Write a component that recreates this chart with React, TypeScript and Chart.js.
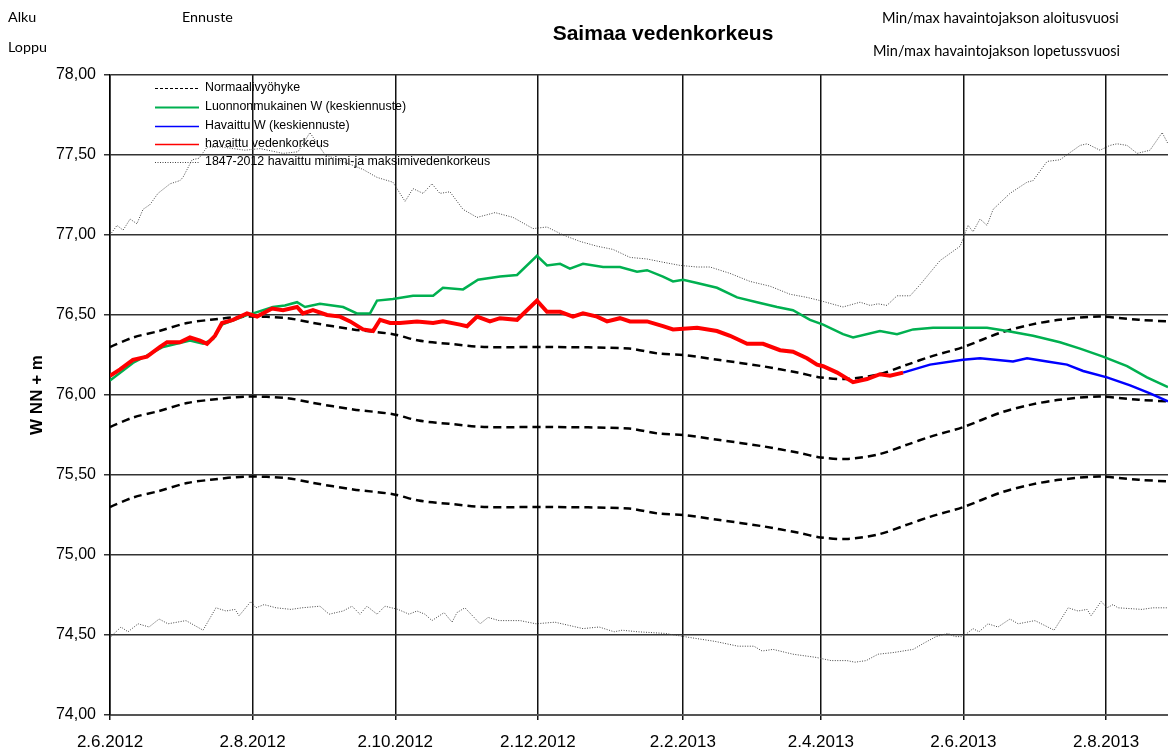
import React, { useEffect, useRef } from 'react';
import { Chart, registerables } from 'chart.js';

Chart.register(...registerables);

// X axis: days since 2.6.2012
const xTickDays = [0, 61, 122, 183, 245, 304, 365, 426];
const xTickLabels = ['2.6.2012', '2.8.2012', '2.10.2012', '2.12.2012', '2.2.2013', '2.4.2013', '2.6.2013', '2.8.2013'];
const xMaxDay = 452.5;
const yMin = 74;
const yMax = 78;
const yStep = 0.5;

const legendLabels = [
  'Normaalivyöhyke',
  'Luonnonmukainen W (keskiennuste)',
  'Havaittu W (keskiennuste)',
  'havaittu vedenkorkeus',
  '1847-2012 havaittu minimi-ja maksimivedenkorkeus',
];

const titleText = 'Saimaa vedenkorkeus';
const yAxisTitle = 'W NN + m';
const headerLeft = ['Alku', 'Ennuste', 'Loppu'];
const headerRight = ['Min/max havaintojakson aloitusvuosi', 'Min/max havaintojakson lopetussvuosi'];

// havaittu vedenkorkeus (red)
const redDays = [0, 4.3, 9.8, 15.8, 21.4, 24.4, 29.9, 34.2, 38.5, 41.5, 44.9, 47.9, 52.6, 58.6, 62.9, 69.3, 74.0, 80.0, 82.5, 86.8, 92.8, 98.4, 102.7, 108.2, 112.5, 115.5, 119.8, 124.0, 131.3, 138.2, 142.4, 149.7, 152.7, 157.0, 162.5, 166.8, 174.1, 182.6, 186.9, 192.5, 198.0, 202.3, 208.3, 212.6, 218.1, 222.4, 229.7, 236.5, 240.8, 251.1, 259.6, 265.2, 272.5, 279.3, 286.6, 292.1, 298.1, 302.4, 305.0, 311.0, 317.8, 323.8, 329.3, 333.6, 339.2];
const redLevels = [76.12, 76.16, 76.22, 76.24, 76.30, 76.33, 76.33, 76.36, 76.34, 76.32, 76.37, 76.45, 76.47, 76.51, 76.49, 76.54, 76.53, 76.55, 76.51, 76.53, 76.50, 76.49, 76.46, 76.41, 76.40, 76.47, 76.45, 76.45, 76.46, 76.45, 76.46, 76.44, 76.43, 76.49, 76.46, 76.48, 76.47, 76.59, 76.52, 76.52, 76.49, 76.51, 76.49, 76.46, 76.48, 76.46, 76.46, 76.43, 76.41, 76.42, 76.40, 76.37, 76.32, 76.32, 76.28, 76.27, 76.23, 76.19, 76.18, 76.14, 76.08, 76.10, 76.13, 76.12, 76.14];

// Luonnonmukainen W (green)
const greenDays = [0, 9.8, 22.7, 34.2, 39.8, 44.1, 47.9, 58.6, 61.2, 69.7, 74.8, 80.0, 83.4, 89.8, 99.7, 105.6, 111.2, 114.2, 121.0, 129.6, 138.2, 142.4, 151.0, 157.4, 166.8, 174.1, 182.6, 186.9, 192.5, 196.7, 202.3, 210.9, 218.1, 225.4, 229.7, 236.5, 240.8, 245.1, 251.1, 259.6, 268.2, 276.7, 285.3, 292.1, 299.4, 305.0, 313.5, 317.8, 329.3, 336.6, 343.5, 352.0, 364.8, 375.1, 383.7, 394.8, 406.3, 414.9, 424.7, 435.0, 443.5, 452.5];
const greenLevels = [76.09, 76.20, 76.30, 76.34, 76.32, 76.35, 76.44, 76.50, 76.51, 76.55, 76.56, 76.58, 76.55, 76.57, 76.55, 76.51, 76.51, 76.59, 76.60, 76.62, 76.62, 76.67, 76.66, 76.72, 76.74, 76.75, 76.87, 76.81, 76.82, 76.79, 76.82, 76.80, 76.80, 76.77, 76.78, 76.74, 76.71, 76.72, 76.70, 76.67, 76.61, 76.58, 76.55, 76.53, 76.47, 76.44, 76.38, 76.36, 76.40, 76.38, 76.41, 76.42, 76.42, 76.42, 76.40, 76.37, 76.33, 76.29, 76.24, 76.18, 76.11, 76.05];

// Havaittu W (blue)
const blueDays = [339.2, 350.7, 364.8, 372.1, 386.2, 392.2, 400.8, 409.3, 416.2, 426.4, 436.3, 444.8, 452.5];
const blueLevels = [76.14, 76.19, 76.22, 76.23, 76.21, 76.23, 76.21, 76.19, 76.15, 76.11, 76.06, 76.01, 75.96];

// Normaalivyöhyke (three dashed lines)
const normalDays = [0, 10, 21, 33, 43, 58, 76, 87, 104, 121, 132, 145, 160, 187, 222, 234, 245, 260, 279, 294, 304, 315, 329, 341, 351, 365, 381, 394, 406, 423, 440, 452.5];
const normalUpper = [76.30, 76.36, 76.40, 76.45, 76.47, 76.49, 76.48, 76.45, 76.41, 76.38, 76.34, 76.32, 76.30, 76.30, 76.29, 76.26, 76.25, 76.22, 76.18, 76.14, 76.11, 76.10, 76.13, 76.19, 76.24, 76.30, 76.39, 76.44, 76.47, 76.49, 76.47, 76.46];
const normalMiddle = [75.80, 75.86, 75.90, 75.95, 75.97, 75.99, 75.98, 75.95, 75.91, 75.88, 75.84, 75.82, 75.80, 75.80, 75.79, 75.76, 75.75, 75.72, 75.68, 75.64, 75.61, 75.60, 75.63, 75.69, 75.74, 75.80, 75.89, 75.94, 75.97, 75.99, 75.97, 75.96];
const normalLower = [75.30, 75.36, 75.40, 75.45, 75.47, 75.49, 75.48, 75.45, 75.41, 75.38, 75.34, 75.32, 75.30, 75.30, 75.29, 75.26, 75.25, 75.22, 75.18, 75.14, 75.11, 75.10, 75.13, 75.19, 75.24, 75.30, 75.39, 75.44, 75.47, 75.49, 75.47, 75.46];

// 1847-2012 maksimi (dotted)
const maxDays = [0, 3.0, 5.6, 8.6, 11.5, 14.1, 17.1, 20.5, 25.7, 29.9, 31.2, 35.1, 38.1, 41.5, 47.9, 57.7, 64.2, 74.0, 80.4, 85.5, 92.0, 94.1, 108.2, 114.2, 121.0, 126.2, 129.6, 133.9, 137.7, 141.1, 145.4, 151.0, 157.0, 164.7, 172.4, 180.9, 186.9, 193.8, 201.0, 208.3, 215.1, 222.4, 229.7, 236.5, 243.8, 251.1, 256.6, 265.2, 273.7, 282.3, 290.8, 298.1, 303.7, 313.5, 320.8, 325.1, 328.5, 332.3, 336.6, 342.2, 346.5, 355.0, 363.6, 367.0, 369.1, 372.1, 375.1, 377.7, 384.9, 392.2, 394.8, 400.8, 406.3, 414.9, 417.9, 423.4, 427.7, 430.7, 435.0, 439.3, 444.8, 450.0, 452.5];
const maxLevels = [77.00, 77.06, 77.03, 77.10, 77.07, 77.16, 77.19, 77.26, 77.32, 77.34, 77.36, 77.47, 77.48, 77.55, 77.55, 77.53, 77.54, 77.51, 77.52, 77.64, 77.50, 77.49, 77.41, 77.36, 77.33, 77.21, 77.29, 77.26, 77.32, 77.26, 77.27, 77.16, 77.11, 77.14, 77.11, 77.04, 77.05, 77.00, 76.96, 76.93, 76.91, 76.86, 76.85, 76.83, 76.81, 76.80, 76.80, 76.76, 76.71, 76.68, 76.63, 76.61, 76.59, 76.55, 76.58, 76.56, 76.57, 76.56, 76.62, 76.62, 76.69, 76.84, 76.93, 77.06, 77.02, 77.10, 77.06, 77.16, 77.26, 77.33, 77.34, 77.46, 77.47, 77.56, 77.57, 77.53, 77.56, 77.57, 77.56, 77.51, 77.53, 77.64, 77.57];

// 1847-2012 minimi (dotted)
const minDays = [0.4, 4.7, 7.7, 12.0, 16.7, 21.0, 24.8, 32.5, 39.8, 45.3, 49.6, 53.5, 55.2, 60.3, 62.4, 65.9, 71.0, 77.4, 82.1, 89.8, 93.7, 99.7, 103.5, 106.9, 109.9, 114.2, 117.6, 123.2, 127.9, 131.3, 134.7, 137.7, 142.9, 146.3, 148.4, 151.8, 158.3, 161.7, 166.4, 175.4, 182.2, 190.3, 202.3, 209.2, 215.6, 219.0, 225.8, 237.4, 245.5, 258.8, 268.6, 275.4, 278.9, 283.6, 292.1, 302.0, 308.4, 315.2, 318.6, 323.4, 328.5, 334.9, 343.5, 348.2, 353.3, 358.4, 361.4, 364.8, 369.1, 371.7, 375.5, 379.8, 384.9, 388.4, 395.6, 403.8, 409.8, 414.0, 417.9, 419.6, 423.9, 426.4, 429.0, 431.1, 441.4, 446.1, 452.5];
const minLevels = [74.49, 74.55, 74.52, 74.57, 74.55, 74.60, 74.57, 74.59, 74.53, 74.67, 74.65, 74.66, 74.62, 74.71, 74.67, 74.69, 74.67, 74.66, 74.67, 74.68, 74.63, 74.65, 74.68, 74.63, 74.68, 74.63, 74.68, 74.66, 74.63, 74.65, 74.63, 74.59, 74.64, 74.58, 74.64, 74.67, 74.57, 74.61, 74.59, 74.59, 74.57, 74.58, 74.54, 74.55, 74.52, 74.53, 74.52, 74.51, 74.49, 74.46, 74.43, 74.43, 74.40, 74.41, 74.38, 74.36, 74.34, 74.34, 74.33, 74.34, 74.38, 74.39, 74.41, 74.45, 74.49, 74.51, 74.49, 74.49, 74.54, 74.52, 74.57, 74.55, 74.60, 74.57, 74.59, 74.53, 74.67, 74.65, 74.66, 74.62, 74.71, 74.67, 74.69, 74.67, 74.66, 74.67, 74.67];

const pts = (xs: number[], ys: number[]) => xs.map((x, i) => ({ x, y: ys[i] }));

const ARIAL = '"Liberation Sans", Arial, sans-serif';
const CALIBRI = 'Lato, "Open Sans", sans-serif';

const decoPlugin = {
  id: 'deco',
  afterDatasetsDraw(chart: any) {
    const ctx = chart.ctx as CanvasRenderingContext2D;
    ctx.save();
    // legend
    const rows = [88, 107, 126, 144, 162];
    const x0 = 155;
    const x1 = 199;
    const styles = [
      { color: '#000', width: 1, dash: [3, 2] },
      { color: '#00b050', width: 2, dash: [] },
      { color: '#0000ff', width: 1.5, dash: [] },
      { color: '#ff0000', width: 1.5, dash: [] },
      { color: '#444', width: 1, dash: [1, 1.5] },
    ];
    ctx.font = '12.4px ' + ARIAL;
    ctx.textBaseline = 'middle';
    ctx.textAlign = 'left';
    legendLabels.forEach((lab, i) => {
      const st = styles[i];
      ctx.beginPath();
      ctx.setLineDash(st.dash);
      ctx.strokeStyle = st.color;
      ctx.lineWidth = st.width;
      ctx.moveTo(x0, rows[i] + 0.5);
      ctx.lineTo(x1, rows[i] + 0.5);
      ctx.stroke();
      ctx.fillStyle = '#000';
      ctx.fillText(lab, 205, rows[i]);
    });
    ctx.setLineDash([]);
    ctx.restore();
  },
  afterDraw(chart: any) {
    const ctx = chart.ctx as CanvasRenderingContext2D;
    ctx.save();
    ctx.fillStyle = '#000';
    ctx.textBaseline = 'middle';
    // title
    ctx.font = 'bold 21px ' + ARIAL;
    ctx.textAlign = 'center';
    ctx.fillText(titleText, 663, 34);
    // header texts
    ctx.font = '14.3px ' + CALIBRI;
    ctx.textAlign = 'left';
    ctx.fillText(headerLeft[0], 8, 17);
    ctx.fillText(headerLeft[1], 182, 17);
    ctx.fillText(headerLeft[2], 8, 47);
    ctx.font = '14.6px ' + CALIBRI;
    ctx.fillText(headerRight[0], 882, 18, 238);
    ctx.fillText(headerRight[1], 873, 51, 247);
    // y axis title
    ctx.save();
    ctx.translate(37, 395);
    ctx.rotate(-Math.PI / 2);
    ctx.font = 'bold 17px ' + ARIAL;
    ctx.textAlign = 'center';
    ctx.fillText(yAxisTitle, 0, 0);
    ctx.restore();
    ctx.restore();
  },
};

export default function App() {
  const ref = useRef<HTMLCanvasElement | null>(null);
  useEffect(() => {
    document.body.style.margin = '0';
    const canvas = ref.current;
    if (!canvas) return;
    const chart = new Chart(canvas, {
      type: 'line',
      data: {
        datasets: [
          { label: legendLabels[3], data: pts(redDays, redLevels), borderColor: '#ff0000', borderWidth: 4, pointRadius: 0, tension: 0 },
          { label: legendLabels[2], data: pts(blueDays, blueLevels), borderColor: '#0000ff', borderWidth: 2.5, pointRadius: 0, tension: 0 },
          { label: legendLabels[1], data: pts(greenDays, greenLevels), borderColor: '#00b050', borderWidth: 2.5, pointRadius: 0, tension: 0 },
          { label: legendLabels[0], data: pts(normalDays, normalUpper), borderColor: '#000', borderWidth: 2.5, borderDash: [8, 5], pointRadius: 0, tension: 0.3 },
          { label: legendLabels[0] + ' 2', data: pts(normalDays, normalMiddle), borderColor: '#000', borderWidth: 2.5, borderDash: [8, 5], pointRadius: 0, tension: 0.3 },
          { label: legendLabels[0] + ' 3', data: pts(normalDays, normalLower), borderColor: '#000', borderWidth: 2.5, borderDash: [8, 5], pointRadius: 0, tension: 0.3 },
          { label: 'max', data: pts(maxDays, maxLevels), borderColor: '#444', borderWidth: 1, borderDash: [1, 1.5], pointRadius: 0, tension: 0 },
          { label: 'min', data: pts(minDays, minLevels), borderColor: '#444', borderWidth: 1, borderDash: [1, 1.5], pointRadius: 0, tension: 0 },
        ],
      },
      options: {
        animation: false,
        responsive: false,
        maintainAspectRatio: false,
        layout: { padding: { top: 75, right: 0, left: 0, bottom: 0 } },
        plugins: {
          legend: { display: false },
          tooltip: { enabled: false },
          title: { display: false },
        },
        scales: {
          x: {
            type: 'linear',
            min: 0,
            max: xMaxDay,
            afterBuildTicks: (scale: any) => {
              scale.ticks = xTickDays.map((v) => ({ value: v }));
            },
            afterFit: (scale: any) => {
              scale.height = 41;
            },
            ticks: {
              autoSkip: false,
              maxRotation: 0,
              padding: 12,
              color: '#000',
              font: { family: ARIAL, size: 17 },
              callback: (v: any) => {
                const i = xTickDays.indexOf(Number(v));
                return i >= 0 ? xTickLabels[i] : '';
              },
            },
            grid: { color: '#111', lineWidth: 1.5, tickLength: 5, drawTicks: true },
            border: { color: '#555', width: 2 },
          },
          y: {
            min: yMin,
            max: yMax,
            afterFit: (scale: any) => {
              scale.width = 110;
            },
            ticks: {
              stepSize: yStep,
              padding: 8,
              color: '#000',
              font: { family: ARIAL, size: 16 },
              callback: (v: any) => Number(v).toFixed(2).replace('.', ','),
            },
            grid: { color: '#333', lineWidth: 1.5, tickLength: 6, drawTicks: true },
            border: { color: '#000', width: 1.5 },
          },
        },
      },
      plugins: [decoPlugin],
    });
    return () => chart.destroy();
  }, []);
  return <canvas ref={ref} width={1168} height={756} style={{ display: 'block' }} />;
}
